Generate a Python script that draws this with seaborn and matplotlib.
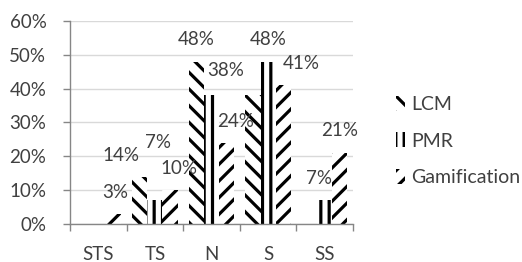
import pandas as pd
import matplotlib.pyplot as plt
import seaborn as sns
from matplotlib.patches import Patch
from matplotlib.ticker import PercentFormatter, FixedLocator

# chart data
categories = ['STS', 'TS', 'N', 'S', 'SS']
series = ['LCM', 'PMR', 'Gamification']
lcm = [0, 14, 48, 38, 0]
pmr = [0, 7, 38, 48, 7]
gamification = [3, 10, 24, 41, 21]

# build long-form table for seaborn
rows = []
for name, vals in zip(series, [lcm, pmr, gamification]):
    for cat, v in zip(categories, vals):
        rows.append({'cat': cat, 'series': name, 'value': v / 100})
df = pd.DataFrame(rows)

sns.set_style('white')
plt.rcParams['font.family'] = ['Lato', 'DejaVu Sans']
plt.rcParams['hatch.linewidth'] = 2.3
text_color = '#404040'

fig = plt.figure(figsize=(5.22, 2.62), dpi=100)
ax = fig.add_axes([70 / 522, 1 - 224 / 262, 283 / 522, 203 / 262])

sns.barplot(data=df, x='cat', y='value', hue='series', order=categories,
            hue_order=series, palette=['white'] * 3, width=0.8,
            edgecolor='black', linewidth=0, legend=False, ax=ax)

hatches = ['\\\\', '||', '//']
for cont, h in zip(ax.containers, hatches):
    for bar in cont:
        bar.set_hatch(h)
        bar.set_edgecolor('black')
        bar.set_linewidth(0)

# data labels (offsets in pixels from top of each bar), as placed in the original
label_offsets = {
    ('Gamification', 'STS'): (2, 21),
    ('LCM', 'TS'): (-19, 21),
    ('PMR', 'TS'): (3, 58),
    ('Gamification', 'TS'): (9, 22),
    ('LCM', 'N'): (0, 22),
    ('PMR', 'N'): (14, 25),
    ('Gamification', 'N'): (9, 21),
    ('PMR', 'S'): (0, 22),
    ('Gamification', 'S'): (18, 22),
    ('PMR', 'SS'): (-6, 22),
    ('Gamification', 'SS'): (0, 22),
}
for cont, name in zip(ax.containers, series):
    for bar, cat in zip(cont, categories):
        key = (name, cat)
        if key not in label_offsets:
            continue
        dx, dy = label_offsets[key]
        x = bar.get_x() + bar.get_width() / 2
        y = bar.get_height()
        ax.annotate(f'{round(y * 100)}%', (x, y), xytext=(dx, dy),
                    textcoords='offset pixels', ha='center', va='center',
                    fontsize=13.5, color=text_color)

ax.set_ylim(0, 0.6)
ax.set_xlim(-0.5, 4.5)
ax.yaxis.set_major_formatter(PercentFormatter(1.0, decimals=0))
ax.set_yticks([0, 0.1, 0.2, 0.3, 0.4, 0.5, 0.6])
ax.yaxis.grid(True, color='#d9d9d9', linewidth=1)
ax.set_axisbelow(True)
ax.set_xlabel('')
ax.set_ylabel('')

for s in ['top', 'right']:
    ax.spines[s].set_visible(False)
for s in ['left', 'bottom']:
    ax.spines[s].set_color('#868686')
    ax.spines[s].set_linewidth(1)

ax.tick_params(axis='y', which='major', left=True, length=5, width=1,
               color='#868686', pad=12, labelsize=13.5, labelcolor=text_color)
ax.tick_params(axis='x', which='major', length=0, pad=16, labelsize=13.5,
               labelcolor=text_color)
ax.xaxis.set_minor_locator(FixedLocator([-0.5, 0.5, 1.5, 2.5, 3.5, 4.5]))
ax.tick_params(axis='x', which='minor', bottom=True, length=5, width=1,
               color='#868686')

handles = [Patch(facecolor='white', edgecolor='black', linewidth=0, hatch=h)
           for h in hatches]
fig.legend(handles, series, loc='upper left',
           bbox_to_anchor=(386 / 522, 1 - 86 / 262), frameon=False,
           fontsize=14, handlelength=0.5, handleheight=0.8,
           handletextpad=0.3, labelspacing=1.0, borderpad=0,
           labelcolor=text_color)

fig.savefig('out.png', dpi=100)
